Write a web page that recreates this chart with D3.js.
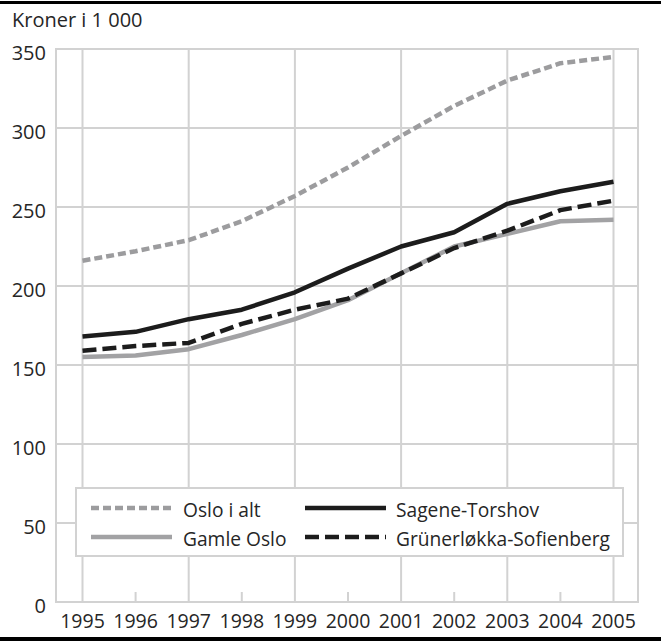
<!DOCTYPE html>
<html>
<head>
<meta charset="utf-8">
<script src="https://cdn.jsdelivr.net/npm/d3@7"></script>
<style>
  html, body { margin: 0; padding: 0; background: #fff; }
  svg { display: block; font-family: "Open Sans", sans-serif; }
</style>
</head>
<body>
<svg id="chart" width="661" height="642"></svg>
<script>
/* ── Data ─────────────────────────────────────────────────────────────── */
const years      = [1995, 1996, 1997, 1998, 1999, 2000, 2001, 2002, 2003, 2004, 2005];
const osloIAlt   = [216, 222, 229, 241, 257, 275, 295, 314, 330, 341, 345];
const gamleOslo  = [155, 156, 160, 169, 179, 191, 208, 225, 233, 241, 242];
const sagene     = [168, 171, 179, 185, 196, 211, 225, 234, 252, 260, 266];
const grunerlokka= [159, 162, 164, 176, 185, 192, 208, 224, 235, 248, 254];
const yTicks     = [0, 50, 100, 150, 200, 250, 300, 350];
const yLabel     = 'Kroner i 1 000';

const SERIES = [
  { name: 'Oslo i alt',             values: osloIAlt,    color: '#9c9c9e', dash: '8,4' },
  { name: 'Gamle Oslo',             values: gamleOslo,   color: '#a2a2a4', dash: null },
  { name: 'Sagene-Torshov',         values: sagene,      color: '#1c1c1c', dash: null },
  { name: 'Grünerløkka-Sofienberg', values: grunerlokka, color: '#1c1c1c', dash: '14,6' },
];

/* ── Layout ───────────────────────────────────────────────────────────── */
const W = 661, H = 642;
const frame = { l: 56, r: 638, t: 49, b: 602 };
const GRID = '#d2d2d2';
const TXT = '#262626';

const svg = d3.select('#chart');
const x = d3.scaleLinear().domain([1995, 2005]).range([82.5, 613.5]);
const y = d3.scaleLinear().domain([0, 350]).range([frame.b, frame.t]);

// top / bottom rules
svg.append('rect').attr('x', 0).attr('y', 1).attr('width', W).attr('height', 3).attr('fill', '#000');
svg.append('rect').attr('x', 0).attr('y', 637).attr('width', W).attr('height', 4).attr('fill', '#000');

svg.append('text').attr('x', 12).attr('y', 27).attr('font-size', 20).attr('fill', TXT).text(yLabel);

// grid
const g = svg.append('g');
yTicks.filter(t => t > 0 && t < 350).forEach(t => {
  g.append('line').attr('x1', frame.l).attr('x2', frame.r).attr('y1', y(t)).attr('y2', y(t))
    .attr('stroke', GRID).attr('stroke-width', 2);
});
years.forEach((yr, i) => {
  const major = i % 2 === 0;
  g.append('line').attr('x1', x(yr)).attr('x2', x(yr))
    .attr('y1', major ? frame.t : frame.b - 10).attr('y2', frame.b)
    .attr('stroke', GRID).attr('stroke-width', 2);
});
g.append('rect').attr('x', frame.l).attr('y', frame.t)
  .attr('width', frame.r - frame.l).attr('height', frame.b - frame.t)
  .attr('fill', 'none').attr('stroke', GRID).attr('stroke-width', 2);

// axis labels
svg.append('g').selectAll('text').data(yTicks).join('text')
  .attr('x', 46).attr('y', d => y(d) + 3)
  .attr('text-anchor', 'end').attr('dominant-baseline', 'central')
  .attr('font-size', 20).attr('fill', TXT).text(d => d);

svg.append('g').selectAll('text').data(years).join('text')
  .attr('x', d => x(d)).attr('y', 628)
  .attr('text-anchor', 'middle')
  .attr('font-size', 19.5).attr('fill', TXT).text(d => d);

// lines
const line = d3.line().x((d, i) => x(years[i])).y(d => y(d));
SERIES.forEach(s => {
  svg.append('path').datum(s.values).attr('d', line)
    .attr('fill', 'none').attr('stroke', s.color).attr('stroke-width', 4.5)
    .attr('stroke-dasharray', s.dash).attr('stroke-linejoin', 'round');
});

/* ── Legend ───────────────────────────────────────────────────────────── */
const lg = svg.append('g');
lg.append('rect').attr('x', 76).attr('y', 488).attr('width', 547).attr('height', 68)
  .attr('fill', '#fff').attr('stroke', GRID).attr('stroke-width', 2);
const legendPos = [
  { sx: 91,  tx: 183, y: 508 },
  { sx: 91,  tx: 183, y: 537 },
  { sx: 305, tx: 396, y: 508 },
  { sx: 305, tx: 396, y: 537 },
];
SERIES.forEach((s, i) => {
  const p = legendPos[i];
  lg.append('line').attr('x1', p.sx).attr('x2', p.sx + 81).attr('y1', p.y).attr('y2', p.y)
    .attr('stroke', s.color).attr('stroke-width', 4.5).attr('stroke-dasharray', s.dash);
  lg.append('text').attr('x', p.tx).attr('y', p.y + 1).attr('dominant-baseline', 'central')
    .attr('font-size', 19.2).attr('fill', TXT).text(s.name);
});
</script>
</body>
</html>
